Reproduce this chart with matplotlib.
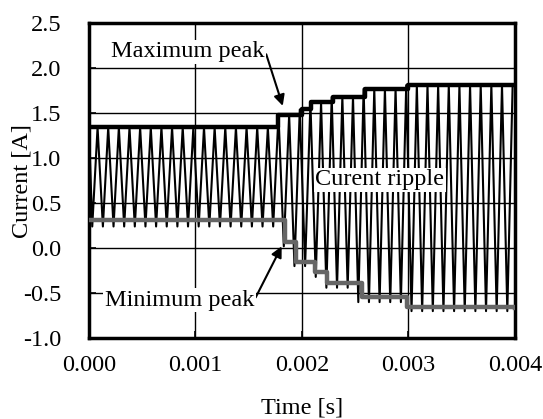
import numpy as np
import matplotlib.pyplot as plt

plt.rcParams['font.family'] = ['Liberation Serif', 'DejaVu Serif']

# ripple peaks (tops) and valleys, one of each per switching cycle
top_t = [0.00008, 0.00018, 0.00028, 0.00038, 0.00048, 0.00058, 0.00068, 0.00078,
         0.00088, 0.00098, 0.00108, 0.00118, 0.00128, 0.00138, 0.00148, 0.00158,
         0.00168, 0.00178, 0.00188, 0.00198, 0.00208, 0.00218, 0.00228, 0.00238,
         0.00248, 0.00258, 0.00268, 0.00278, 0.00288, 0.00298, 0.00308, 0.00318,
         0.00328, 0.00338, 0.00348, 0.00358, 0.00368, 0.00378, 0.00388, 0.00398]
top_i = [1.34] * 17 + [1.48, 1.48, 1.54, 1.62, 1.62, 1.68, 1.68, 1.68,
                       1.77, 1.77, 1.77, 1.77] + [1.81] * 11
val_t = [0.00003, 0.00013, 0.00023, 0.00033, 0.00043, 0.00053, 0.00063, 0.00073,
         0.00083, 0.00093, 0.00103, 0.00113, 0.00123, 0.00133, 0.00143, 0.00153,
         0.00163, 0.00173, 0.00183, 0.00193, 0.00203, 0.00213, 0.00223, 0.00233,
         0.00243, 0.00253, 0.00263, 0.00273, 0.00283, 0.00293, 0.00303, 0.00313,
         0.00323, 0.00333, 0.00343, 0.00353, 0.00363, 0.00373, 0.00383, 0.00393]
val_i = [0.24] * 18 + [0.02, -0.20, -0.20, -0.32, -0.44, -0.44, -0.44,
                       -0.60, -0.60, -0.60, -0.60, -0.60] + [-0.70] * 10

# peak-hold envelopes (step changes)
max_t = [0.0, 0.00178, 0.00200, 0.00209, 0.00229, 0.00259, 0.00300, 0.004]
max_i = [1.34, 1.48, 1.54, 1.62, 1.68, 1.77, 1.81, 1.81]
min_t = [0.0, 0.00184, 0.00194, 0.00212, 0.00224, 0.00256, 0.00299, 0.004]
min_i = [0.31, 0.07, -0.15, -0.27, -0.39, -0.54, -0.65, -0.67]

rip_t = [0.0]
rip_i = [1.30]
for a, b, c, d in zip(val_t, val_i, top_t, top_i):
    rip_t += [a, c]
    rip_i += [b, d]

fig = plt.figure(figsize=(5.43, 4.19), dpi=100)
ax = fig.add_axes([0.164, 0.193, 0.784, 0.752])

ax.plot(rip_t, rip_i, color='black', lw=1.5, zorder=3)
ax.plot(min_t, min_i, color='#666666', lw=3.2, drawstyle='steps-post', zorder=4)
ax.plot(max_t, max_i, color='black', lw=3.2, drawstyle='steps-post', zorder=4)

ax.set_xlim(0, 0.004)
ax.set_ylim(-1.0, 2.5)
ax.set_xticks([0.0, 0.001, 0.002, 0.003, 0.004])
ax.set_xticklabels(['0.000', '0.001', '0.002', '0.003', '0.004'])
ax.set_yticks(np.arange(-1.0, 2.51, 0.5))
ax.set_yticklabels(['%.1f' % v for v in np.arange(-1.0, 2.51, 0.5)])
ax.grid(True, color='black', lw=1)
ax.tick_params(direction='in', length=5, width=1.2, labelsize=17.5)
ax.tick_params(axis='x', pad=12)
ax.tick_params(axis='y', pad=20)
for s in ax.spines.values():
    s.set_linewidth(2.5)
ax.set_xlabel('Time [s]', fontsize=17.5)
ax.set_ylabel('Current [A]', fontsize=17.5)
ax.xaxis.set_label_coords(0.5, -0.19)
ax.yaxis.set_label_coords(-0.134, 0.5)

box = dict(facecolor='white', edgecolor='none', pad=1)
arr = dict(arrowstyle='-|>', color='black', lw=1.5, mutation_scale=16)
ax.annotate('Maximum peak', xy=(0.00182, 1.58), xytext=(0.00093, 2.18),
            ha='center', va='center', fontsize=17.5, bbox=box,
            arrowprops=dict(arr, shrinkA=0, shrinkB=0, relpos=(1.0, 0.6)), zorder=6)
ax.annotate('Minimum peak', xy=(0.00181, 0.02), xytext=(0.00085, -0.58),
            ha='center', va='center', fontsize=17.5, bbox=box,
            arrowprops=dict(arr, shrinkA=0, shrinkB=0, relpos=(1.0, 0.5)), zorder=6)
ax.text(0.00273, 0.76, 'Curent ripple', ha='center', va='center', fontsize=17.5,
        bbox=box, zorder=6)

fig.savefig('out.png', dpi=100)
